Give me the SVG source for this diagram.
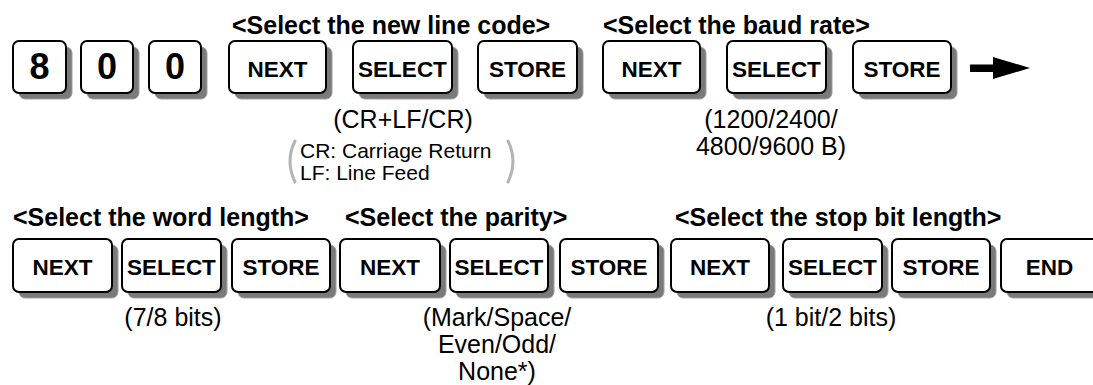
<svg xmlns="http://www.w3.org/2000/svg" width="1093" height="385" viewBox="0 0 1093 385">
<style>
.sh{fill:#7a7a7a;stroke:#a0a0a0;stroke-width:1}
.face{fill:#fff;stroke:#000;stroke-width:2}
.kl{font-family:"Liberation Sans",Arial,sans-serif;font-weight:bold;font-size:22.5px;text-anchor:middle;fill:#000}
.dg{font-family:"Liberation Sans",Arial,sans-serif;font-weight:bold;font-size:36px;text-anchor:middle;fill:#000}
.hd{font-family:"Liberation Sans",Arial,sans-serif;font-weight:bold;font-size:25px;fill:#000}
.an{font-family:"Liberation Sans",Arial,sans-serif;font-size:25px;text-anchor:middle;fill:#000}
.nt{font-family:"Liberation Sans",Arial,sans-serif;font-size:21px;fill:#000}
.par{fill:none;stroke:#b4b4b4;stroke-width:3;stroke-linecap:round}
</style>
<rect width="1093" height="385" fill="#fff"/>

<g id="headers">
<text class="hd" x="232" y="34">&lt;Select the new line code&gt;</text>
<text class="hd" x="603" y="34">&lt;Select the baud rate&gt;</text>
<text class="hd" x="13" y="226">&lt;Select the word length&gt;</text>
<text class="hd" x="345" y="226">&lt;Select the parity&gt;</text>
<text class="hd" x="675" y="226">&lt;Select the stop bit length&gt;</text>
</g>

<g id="k8"><rect class="sh" x="19" y="47" width="53" height="52" rx="6"/><rect class="face" x="13" y="41" width="53" height="52" rx="6"/><text class="dg" x="39.5" y="79">8</text></g>
<g id="k0a"><rect class="sh" x="87" y="47" width="52" height="52" rx="6"/><rect class="face" x="81" y="41" width="52" height="52" rx="6"/><text class="dg" x="107" y="79">0</text></g>
<g id="k0b"><rect class="sh" x="155" y="47" width="52" height="52" rx="6"/><rect class="face" x="149" y="41" width="52" height="52" rx="6"/><text class="dg" x="175" y="79">0</text></g>
<g id="next1"><rect class="sh" x="235" y="47" width="97" height="52" rx="6"/><rect class="face" x="229" y="41" width="97" height="52" rx="6"/><text class="kl" x="277.5" y="77">NEXT</text></g>
<g id="select1"><rect class="sh" x="359" y="47" width="99" height="52" rx="6"/><rect class="face" x="353" y="41" width="99" height="52" rx="6"/><text class="kl" x="402.5" y="77">SELECT</text></g>
<g id="store1"><rect class="sh" x="484" y="47" width="99" height="52" rx="6"/><rect class="face" x="478" y="41" width="99" height="52" rx="6"/><text class="kl" x="527.5" y="77">STORE</text></g>
<g id="next2"><rect class="sh" x="609" y="47" width="97" height="52" rx="6"/><rect class="face" x="603" y="41" width="97" height="52" rx="6"/><text class="kl" x="651.5" y="77">NEXT</text></g>
<g id="select2"><rect class="sh" x="733" y="47" width="99" height="52" rx="6"/><rect class="face" x="727" y="41" width="99" height="52" rx="6"/><text class="kl" x="776.5" y="77">SELECT</text></g>
<g id="store2"><rect class="sh" x="859" y="47" width="98" height="52" rx="6"/><rect class="face" x="853" y="41" width="98" height="52" rx="6"/><text class="kl" x="902" y="77">STORE</text></g>

<g id="ann-linecode">
<text class="an" x="403" y="128">(CR+LF/CR)</text>
<path class="par" d="M295,141 Q285,161 295,182"/>
<text class="nt" x="300" y="158">CR: Carriage Return</text>
<text class="nt" x="300" y="180">LF: Line Feed</text>
<path class="par" d="M508,141 Q518,161 508,182"/>
</g>
<g id="ann-baud">
<text class="an" x="771" y="128">(1200/2400/</text>
<text class="an" x="771" y="155">4800/9600 B)</text>
</g>

<g id="connectors">
<rect x="970" y="64.5" width="25" height="7.5" fill="#000"/>
<polygon points="993,57 1030,68 993,79" fill="#000"/>
</g>

<g id="next3"><rect class="sh" x="19" y="245" width="99" height="53" rx="6"/><rect class="face" x="13" y="239" width="99" height="53" rx="6"/><text class="kl" x="62.5" y="275">NEXT</text></g>
<g id="select3"><rect class="sh" x="128" y="245" width="99" height="53" rx="6"/><rect class="face" x="122" y="239" width="99" height="53" rx="6"/><text class="kl" x="171.5" y="275">SELECT</text></g>
<g id="store3"><rect class="sh" x="238" y="245" width="98" height="53" rx="6"/><rect class="face" x="232" y="239" width="98" height="53" rx="6"/><text class="kl" x="281" y="275">STORE</text></g>
<g id="next4"><rect class="sh" x="346" y="245" width="100" height="53" rx="6"/><rect class="face" x="340" y="239" width="100" height="53" rx="6"/><text class="kl" x="390" y="275">NEXT</text></g>
<g id="select4"><rect class="sh" x="456" y="245" width="98" height="53" rx="6"/><rect class="face" x="450" y="239" width="98" height="53" rx="6"/><text class="kl" x="499" y="275">SELECT</text></g>
<g id="store4"><rect class="sh" x="566" y="245" width="98" height="53" rx="6"/><rect class="face" x="560" y="239" width="98" height="53" rx="6"/><text class="kl" x="609" y="275">STORE</text></g>
<g id="next5"><rect class="sh" x="677" y="245" width="98" height="53" rx="6"/><rect class="face" x="671" y="239" width="98" height="53" rx="6"/><text class="kl" x="720" y="275">NEXT</text></g>
<g id="select5"><rect class="sh" x="789" y="245" width="99" height="53" rx="6"/><rect class="face" x="783" y="239" width="99" height="53" rx="6"/><text class="kl" x="832.5" y="275">SELECT</text></g>
<g id="store5"><rect class="sh" x="898" y="245" width="98" height="53" rx="6"/><rect class="face" x="892" y="239" width="98" height="53" rx="6"/><text class="kl" x="941" y="275">STORE</text></g>
<g id="end"><rect class="sh" x="1007" y="245" width="98" height="53" rx="6"/><rect class="face" x="1001" y="239" width="98" height="53" rx="6"/><text class="kl" x="1049.5" y="275">END</text></g>

<g id="ann-word"><text class="an" x="173" y="326">(7/8 bits)</text></g>
<g id="ann-parity">
<text class="an" x="497" y="326">(Mark/Space/</text>
<text class="an" x="497" y="353">Even/Odd/</text>
<text class="an" x="497" y="380">None*)</text>
</g>
<g id="ann-stop"><text class="an" x="831" y="326">(1 bit/2 bits)</text></g>
</svg>
